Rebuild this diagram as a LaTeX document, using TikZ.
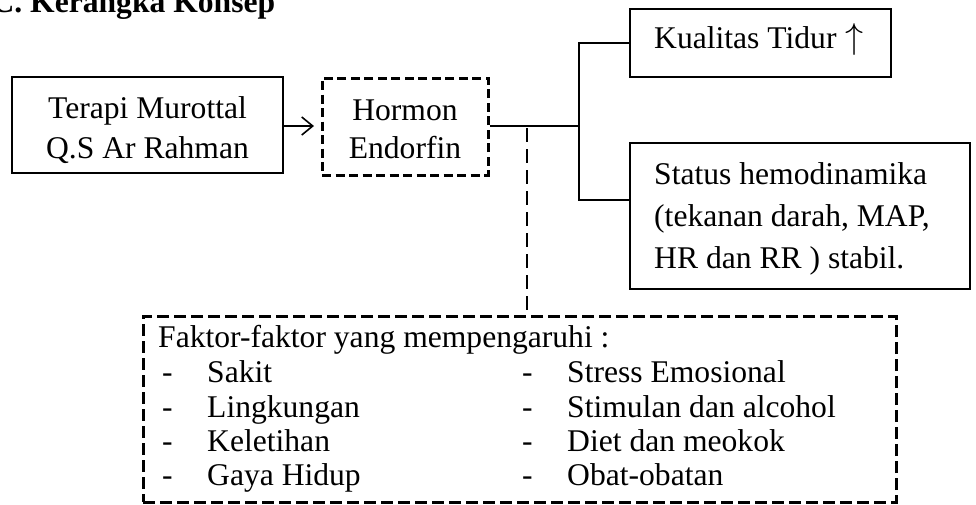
\documentclass[tikz,border=0pt]{standalone}
\usepackage{fontspec}
\setmainfont{Liberation Serif}
\usetikzlibrary{arrows.meta}
\tikzset{
  solidbox/.style={draw=black, line width=2.2pt, rectangle, inner sep=0pt},
  dashbox/.style={draw=black, line width=3pt, rectangle, inner sep=0pt, dash pattern=on 9pt off 4.5pt},
  bigdashbox/.style={draw=black, line width=3pt, rectangle, inner sep=0pt, dash pattern=on 12pt off 5pt},
  conn/.style={line width=1.3pt},
  dconn/.style={line width=1.3pt, dash pattern=on 14pt off 7pt},
  lbl/.style={inner sep=0pt, anchor=base},
  lblw/.style={inner sep=0pt, anchor=base west},
}
\begin{document}
\begin{tikzpicture}[x=1pt,y=-1pt]
\useasboundingbox (0,0) rectangle (976,504);
\fontsize{31.6}{40}\selectfont
% title
\node[lblw, font=\bfseries] (title) at (-8.6,12) {C. Kerangka Konsep};
% boxes
\node[solidbox, minimum width=271pt, minimum height=96pt] (terapi) at (147.5,125) {};
\node[lbl] (terapi1) at (147.5,118) {Terapi Murottal};
\node[lbl] (terapi2) at (147.5,158) {Q.S Ar Rahman};
\node[dashbox, minimum width=166pt, minimum height=97pt] (hormon) at (405,126.5) {};
\node[lbl] (hormon1) at (405,120) {Hormon};
\node[lbl] (hormon2) at (405,158) {Endorfin};
\node[solidbox, minimum width=261pt, minimum height=68pt] (kual) at (760.5,43) {};
\node[lblw] (kualt) at (654,48) {Kualitas Tidur\hspace{9pt}\scalebox{1.45}{$\uparrow$}};
\node[solidbox, minimum width=340pt, minimum height=146pt] (status) at (800,216) {};
\node[lblw] (status1) at (654,184) {Status hemodinamika};
\node[lblw] (status2) at (654,226) {(tekanan darah, MAP,};
\node[lblw] (status3) at (654,268) {HR dan RR ) stabil.};
\node[bigdashbox, minimum width=753pt, minimum height=186pt] (faktor) at (519.5,409) {};
\node[lblw] (f0) at (158,347) {Faktor-faktor yang mempengaruhi :};
\node[lblw] (fa1) at (162,382) {-};
\node[lblw] (fb1) at (207,382) {Sakit};
\node[lblw] (fa2) at (162,417) {-};
\node[lblw] (fb2) at (207,417) {Lingkungan};
\node[lblw] (fa3) at (162,451) {-};
\node[lblw] (fb3) at (207,451) {Keletihan};
\node[lblw] (fa4) at (162,485) {-};
\node[lblw] (fb4) at (207,485) {Gaya Hidup};
\node[lblw] (fc1) at (522,382) {-};
\node[lblw] (fd1) at (567,382) {Stress Emosional};
\node[lblw] (fc2) at (522,417) {-};
\node[lblw] (fd2) at (567,417) {Stimulan dan alcohol};
\node[lblw] (fc3) at (522,451) {-};
\node[lblw] (fd3) at (567,451) {Diet dan meokok};
\node[lblw] (fc4) at (522,485) {-};
\node[lblw] (fd4) at (567,485) {Obat-obatan};
% connectors
\coordinate (arrowend) at (314,126);
\draw[line width=1.6pt, -{Straight Barb[length=11pt, width=18pt, line width=1.6pt]}] (terapi.east |- arrowend) -- (arrowend);
\coordinate (j) at (579,126);
\coordinate (jt) at (579,43);
\coordinate (jb) at (579,200);
\draw[conn] (hormon.east |- j) -- (j);
\draw[conn] (kual.west) -- (jt) -- (jb) -- (jb -| status.west);
\coordinate (d) at (527,128);
\draw[dconn] (d) -- (d |- faktor.north);
\end{tikzpicture}
\end{document}
